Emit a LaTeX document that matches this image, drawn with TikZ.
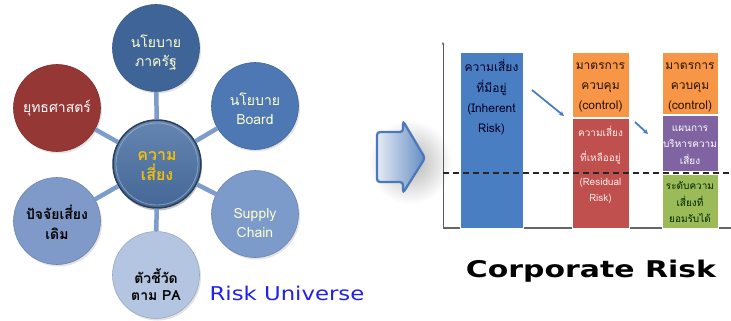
\documentclass[tikz,border=0pt]{standalone}
\usepackage{fontspec}
\newfontfamily\thai[Script=Thai]{Loma}
\newfontfamily\widefont[FakeStretch=1.2]{DejaVu Sans}
\newfontfamily\corpfont[FakeStretch=1.3]{DejaVu Sans}
\usetikzlibrary{shadows,arrows.meta}
\definecolor{cTop}{HTML}{3F6598}
\definecolor{cCtr}{HTML}{4A70A3}
\definecolor{cBoard}{HTML}{4D78B3}
\definecolor{cSupply}{HTML}{7C9BCB}
\definecolor{cPA}{HTML}{B4C5E2}
\definecolor{cPJ}{HTML}{7F9AC8}
\definecolor{cYT}{HTML}{953735}
\definecolor{cConn}{HTML}{7C9DCC}
\definecolor{cYel}{HTML}{FFFFCC}
\definecolor{cGold}{HTML}{F0BE10}
\definecolor{cRU}{HTML}{2020F0}
\definecolor{bBlue}{HTML}{4A7EC2}
\definecolor{bOrange}{HTML}{F79646}
\definecolor{bRed}{HTML}{C0504D}
\definecolor{bPurple}{HTML}{8064A2}
\definecolor{bGreen}{HTML}{9BBB59}
\definecolor{arrBlue}{HTML}{4A78B8}
\begin{document}
\begin{tikzpicture}[x=1pt,y=-1pt,
  bubble/.style={circle,minimum size=87pt,inner sep=0pt,fill=#1,draw=#1!85!black,line width=0.6pt,
    drop shadow={shadow xshift=1.5pt,shadow yshift=-2pt,opacity=0.22}},
  btext/.style={font=\thai\fontsize{14}{19}\selectfont,align=center,inner sep=0pt},
  conn/.style={draw=cConn,line width=4.5pt},
  bar/.style={draw=white,line width=0.8pt},
  bartext/.style={font=\thai\fontsize{#1}{#1}\selectfont,align=center,inner sep=0pt},
  smallarr/.style={draw=bBlue,line width=1.8pt,-{Stealth[length=5pt,width=5pt]}}
]
\useasboundingbox (0,0) rectangle (731,321);
\fill[white] (0,0) rectangle (731,321);

% ---------------- Risk universe ----------------
\node[bubble=cTop]    (top) at (156,48) {};
\node[bubble=cBoard]  (brd) at (255,106) {};
\node[bubble=cSupply] (sup) at (255,214) {};
\node[bubble=cPA]     (pa)  at (156,275) {};
\node[bubble=cPJ]     (pj)  at (57,221) {};
\node[bubble=cYT]     (yt)  at (57,108) {};
\node[circle,minimum size=88pt,inner sep=0pt,top color=cCtr!85!white,bottom color=cCtr!92!black,
      draw=cCtr!55!black,line width=1.5pt,
      drop shadow={shadow xshift=1pt,shadow yshift=-2.5pt,opacity=0.45}] (ctr) at (157,164) {};
\draw[cCtr!45!white,line width=0.8pt,opacity=0.6] (157,164) circle (41pt);

\draw[conn] (ctr) -- (top);
\draw[conn] (ctr) -- (brd);
\draw[conn] (ctr) -- (sup);
\draw[conn] (ctr) -- (pa);
\draw[conn] (ctr) -- (pj);
\draw[conn] (ctr) -- (yt);

\node[btext,text=cYel] (ttop) at (156,53) {นโยบาย\\ภาครัฐ};
\node[btext,text=cYel] (tbrd) at (255,109) {นโยบาย\\Board};
\node[btext,text=cYel] (tsup) at (255,223) {Supply\\Chain};
\node[btext,font=\thai\bfseries\fontsize{14}{17}\selectfont,text=black] (tpa) at (156,285) {ตัวชี้วัด\\ตาม PA};
\node[btext,font=\thai\bfseries\fontsize{14}{20}\selectfont,text=black] (tpj) at (57,222) {ปัจจัยเสี่ยง\\เดิม};
\node[btext,text=white] (tyt) at (57,108) {ยุทธศาสตร์};
\node[btext,font=\thai\bfseries\fontsize{16}{20}\selectfont,text=cGold] (tctr) at (157,166) {ความ\\เสี่ยง};

\node[font=\widefont\fontsize{19}{19}\selectfont,text=cRU,inner sep=0pt] (ru) at (287,293) {Risk Universe};

% ---------------- big arrow ----------------
\shade[inner color=black!30,outer color=white] (410,162) circle (42pt);
\draw[arrBlue,line width=2.2pt,rounded corners=3pt,left color=white!85!arrBlue,right color=arrBlue!85!white]
  (377,132) -- (403,132) -- (403,121) -- (425,158) -- (403,193) -- (403,182) -- (377,182) -- cycle;

% ---------------- chart ----------------
\coordinate (o) at (443,228);
\coordinate (ytop) at (443,42);
\coordinate (xend) at (731,228);
\draw[black!65,line width=0.8pt,-{Stealth[length=3pt,width=2.5pt]}] (o) -- (ytop);
\draw[black!60,line width=1.4pt] (o) -- (xend);

\fill[bar,fill=bBlue]   (460,52) rectangle (523,228);
\fill[bar,fill=bOrange] (572,52) rectangle (629,117);
\fill[bar,fill=bRed]    (572,118) rectangle (629,228);
\fill[bar,fill=bOrange] (662,52) rectangle (718,114);
\fill[bar,fill=bPurple] (662,115.5) rectangle (718,171);
\fill[bar,fill=bGreen]  (662,174) rectangle (718,228);
\draw[white,line width=0.8pt] (460,52) rectangle (523,228);
\draw[white,line width=0.8pt] (572,52) rectangle (629,117);
\draw[white,line width=0.8pt] (572,118) rectangle (629,228);
\draw[white,line width=0.8pt] (662,52) rectangle (718,114);
\draw[white,line width=0.8pt] (662,115.5) rectangle (718,171);
\draw[white,line width=0.8pt] (662,174) rectangle (718,228);

\node[bartext=12,text=black!85!blue] (tblue) at (491.5,97) {ความเสี่ยง\\[8pt]ที่มีอยู่\\[8pt](Inherent\\[8pt]Risk)};
\node[bartext=12,text=black!85!orange] (tor1) at (600.5,87) {มาตรการ\\[8pt]ควบคุม\\[8pt](control)};
\node[bartext=10,text=white!92!red] (tred) at (600.5,165) {ความเสี่ยง\\[14pt]ที่เหลืออยู่\\[14pt](Residual\\[6pt]Risk)};
\node[bartext=12,text=black!85!orange] (tor2) at (690,87) {มาตรการ\\[8pt]ควบคุม\\[8pt](control)};
\node[bartext=10,text=white] (tpur) at (690,145) {แผนการ\\[6pt]บริหารความ\\[6pt]เสี่ยง};
\node[bartext=10,text=black!85!green] (tgrn) at (690,202) {ระดับความ\\[6pt]เสี่ยงที่\\[6pt]ยอมรับได้};

\coordinate (a1s) at (532,90);
\coordinate (a1e) at (564,116);
\coordinate (a2s) at (635,122);
\coordinate (a2e) at (648,134);
\draw[smallarr] (a1s) -- (a1e);
\draw[smallarr] (a2s) -- (a2e);

\coordinate (d1) at (443,173);
\coordinate (d2) at (731,173);
\draw[black!85,line width=1.8pt,dash pattern=on 6pt off 4pt] (d1) -- (d2);

\node[font=\corpfont\bfseries\fontsize{23}{23}\selectfont,text=black,inner sep=0pt] (cr) at (591,271) {Corporate Risk};
\end{tikzpicture}
\end{document}
